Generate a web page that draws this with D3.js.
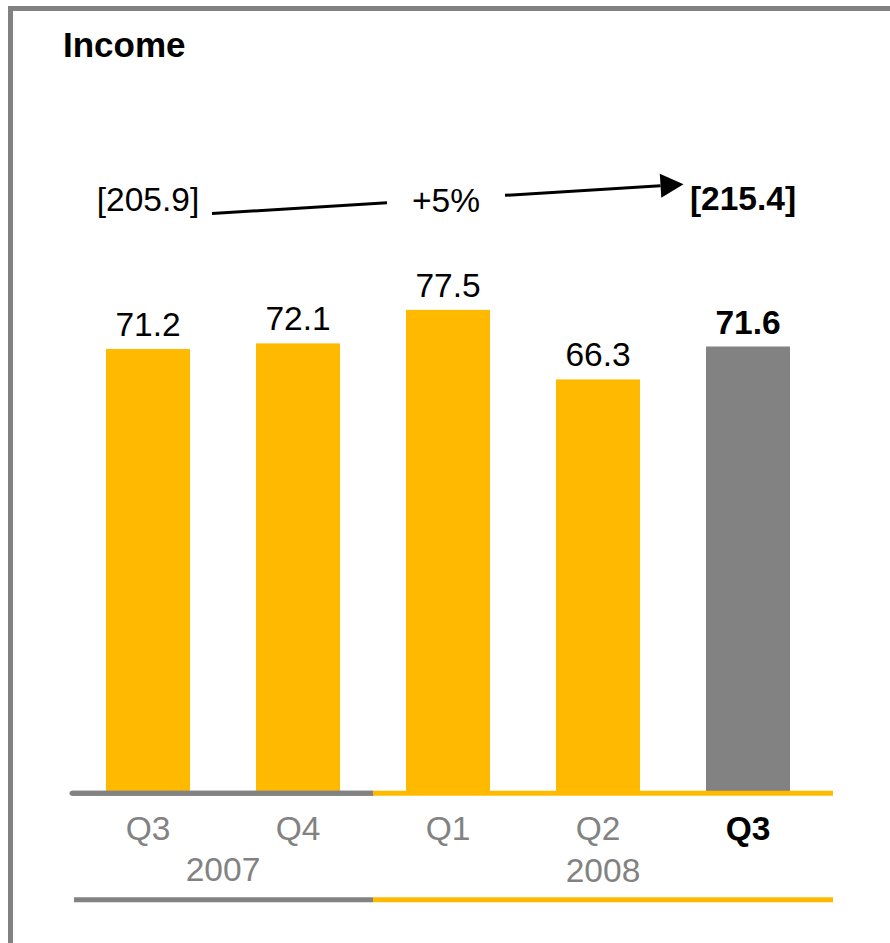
<!DOCTYPE html>
<html>
<head>
<meta charset="utf-8">
<script src="https://cdn.jsdelivr.net/npm/d3@7"></script>
<style>
  html, body { margin: 0; padding: 0; background: #fff; }
  svg { display: block; font-family: "Liberation Sans", Arial, Helvetica, sans-serif; }
</style>
</head>
<body>
<svg id="chart" width="890" height="943"></svg>
<script>
// Quarterly income
const quarters = ["Q3", "Q4", "Q1", "Q2", "Q3"];
const years = ["2007", "2007", "2008", "2008", "2008"];
const income = [71.2, 72.1, 77.5, 66.3, 71.6];
const currentIndex = 4;

// Nine-month totals and their change
const totalPrior = 205.9;
const totalCurrent = 215.4;
const totalChange = "+5%";

const YELLOW = "#FFBA00";
const GREY = "#828282";
const FONT = 33.5;

const svg = d3.select("#chart");

// Frame (open on the right and bottom)
svg.append("path")
  .attr("d", "M10.5,950 L10.5,8.5 L900,8.5")
  .attr("fill", "none")
  .attr("stroke", GREY)
  .attr("stroke-width", 5);

svg.append("text")
  .attr("x", 63).attr("y", 57.3)
  .attr("font-size", 35).attr("font-weight", "bold")
  .attr("fill", "#000")
  .text("Income");

const idx = d3.range(income.length);
const x = d3.scaleBand()
  .domain(idx)
  .range([73, 823])
  .paddingInner(0.44)
  .paddingOuter(0.22);

const baseY = 791;
const y = d3.scaleLinear().domain([0, 80]).range([baseY, baseY - 80 * 6.208]);

const cx = i => x(i) + x.bandwidth() / 2;

// Bars
svg.append("g").selectAll("rect")
  .data(idx)
  .join("rect")
  .attr("x", i => x(i))
  .attr("y", i => y(income[i]))
  .attr("width", x.bandwidth())
  .attr("height", i => y(0) - y(income[i]))
  .attr("fill", i => i === currentIndex ? GREY : YELLOW);

// Value labels
svg.append("g").selectAll("text")
  .data(idx)
  .join("text")
  .attr("x", cx)
  .attr("y", i => y(income[i]) - 13)
  .attr("text-anchor", "middle")
  .attr("font-size", FONT)
  .attr("font-weight", i => i === currentIndex ? "bold" : "normal")
  .attr("fill", "#000")
  .text(i => income[i].toFixed(1));

// Year split lines: the axis baseline and the line under the year labels
const split = (cx(1) + cx(2)) / 2;
const leftEnd = x.range()[0] - 1;
const rightEnd = x.range()[1] + 10;
[793.2, 899.8].forEach((ly, k) => {
  svg.append("line")
    .attr("x1", leftEnd + k * 2).attr("x2", split)
    .attr("y1", ly).attr("y2", ly)
    .attr("stroke", GREY).attr("stroke-width", 5)
    .attr("stroke-linecap", k === 0 ? "round" : "butt");
  svg.append("line")
    .attr("x1", split).attr("x2", rightEnd)
    .attr("y1", ly).attr("y2", ly)
    .attr("stroke", YELLOW).attr("stroke-width", 5);
});
// redraw grey start over the yellow join
svg.append("line")
  .attr("x1", leftEnd).attr("x2", split)
  .attr("y1", 793.2).attr("y2", 793.2)
  .attr("stroke", GREY).attr("stroke-width", 5);

// Quarter labels
svg.append("g").selectAll("text")
  .data(idx)
  .join("text")
  .attr("x", cx)
  .attr("y", 840)
  .attr("text-anchor", "middle")
  .attr("font-size", FONT)
  .attr("font-weight", i => i === currentIndex ? "bold" : "normal")
  .attr("fill", i => i === currentIndex ? "#000" : GREY)
  .text(i => quarters[i]);

// Year labels centred under each year's quarters
const yearGroups = d3.groups(idx, i => years[i]);
svg.append("g").selectAll("text")
  .data(yearGroups)
  .join("text")
  .attr("x", ([, is]) => (cx(is[0]) + cx(is[is.length - 1])) / 2 + (is.length > 2 ? 5 : 0))
  .attr("y", ([, is]) => is.length > 2 ? 882 : 880.6)
  .attr("text-anchor", "middle")
  .attr("font-size", FONT)
  .attr("fill", GREY)
  .text(([yr]) => yr);

// Totals with growth arrow
const fmt = d3.format(".1f");
svg.append("text")
  .attr("x", cx(0)).attr("y", 211)
  .attr("text-anchor", "middle")
  .attr("font-size", FONT)
  .attr("fill", "#000")
  .text("[" + fmt(totalPrior) + "]");

svg.append("text")
  .attr("x", cx(currentIndex) - 5).attr("y", 210)
  .attr("text-anchor", "middle")
  .attr("font-size", FONT).attr("font-weight", "bold")
  .attr("fill", "#000")
  .text("[" + fmt(totalCurrent) + "]");

svg.append("text")
  .attr("x", cx(2) - 2).attr("y", 211.7)
  .attr("text-anchor", "middle")
  .attr("font-size", FONT)
  .attr("fill", "#000")
  .text(totalChange);

const p0 = [212, 213.5], p1 = [683.5, 184.3];
const along = xx => p0[1] + (p1[1] - p0[1]) * (xx - p0[0]) / (p1[0] - p0[0]);
const headLen = 23, headHalf = 12;
const ang = Math.atan2(p1[1] - p0[1], p1[0] - p0[0]);
const baseX = p1[0] - headLen * Math.cos(ang);
const baseYh = p1[1] - headLen * Math.sin(ang);

svg.append("line")
  .attr("x1", p0[0]).attr("y1", p0[1])
  .attr("x2", 387).attr("y2", along(387))
  .attr("stroke", "#000").attr("stroke-width", 3);
svg.append("line")
  .attr("x1", 505).attr("y1", along(505))
  .attr("x2", baseX).attr("y2", baseYh)
  .attr("stroke", "#000").attr("stroke-width", 3);
svg.append("path")
  .attr("d", d3.line()([
    p1,
    [baseX - headHalf * Math.sin(ang), baseYh + headHalf * Math.cos(ang)],
    [baseX + headHalf * Math.sin(ang), baseYh - headHalf * Math.cos(ang)]
  ]) + "Z")
  .attr("fill", "#000");
</script>
</body>
</html>
